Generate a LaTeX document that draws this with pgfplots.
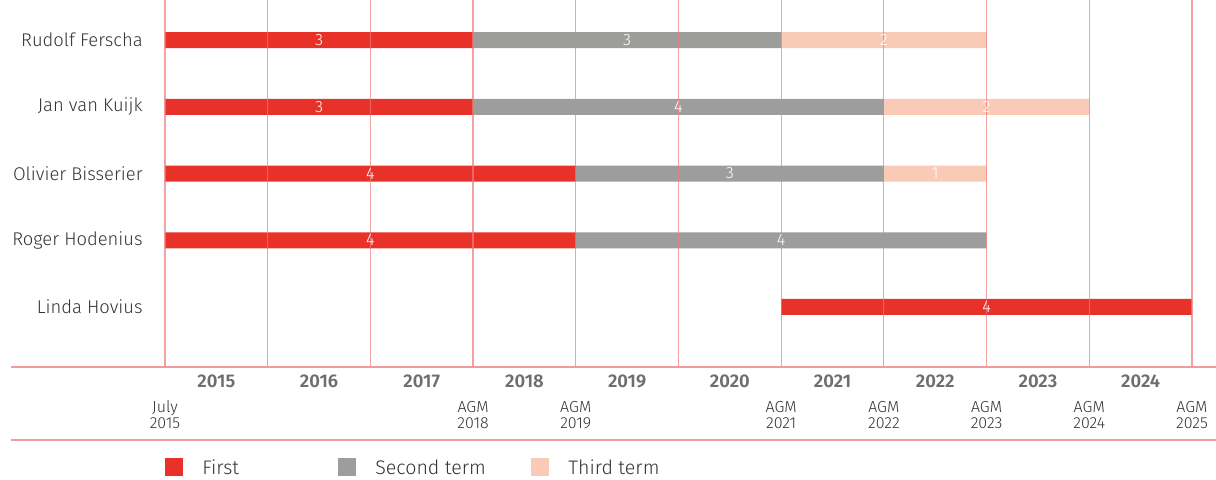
\documentclass[border=0pt]{standalone}
\usepackage{fontspec}
\setmainfont{Fira Sans Light}[BoldFont={Fira Sans SemiBold}]
\usepackage{pgfplots}
\pgfplotsset{compat=1.18}
\definecolor{cred}{HTML}{E83229}
\definecolor{cgray}{HTML}{9D9D9C}
\definecolor{cpeach}{HTML}{F9CAB6}
\definecolor{cgrid}{HTML}{EE7B7B}
\definecolor{ctext}{HTML}{333333}
\definecolor{cyear}{HTML}{6E6E6E}
\tikzset{
  nm/.style={anchor=east, font=\fontsize{9.2}{11}\selectfont, text=ctext, inner sep=0pt},
  bv/.style={font=\fontsize{8.2}{9}\selectfont, text=white, inner sep=0pt},
  yr/.style={anchor=base, font=\bfseries\fontsize{9.2}{10}\selectfont, text=cyear, inner sep=0pt},
  agm/.style={anchor=base, font=\fontsize{8}{9}\selectfont, text=ctext, inner sep=0pt},
}
\begin{document}
\begin{tikzpicture}
\useasboundingbox (-5.5pt,-56.5pt) rectangle (602.5pt,183.5pt);
\begin{axis}[
  scale only axis, width=602.5pt, height=183.5pt,
  xmin=-1.4995, xmax=10.234, ymin=-0.899, ymax=4.6,
  xbar stacked, bar width=8pt,
  axis y line=none, axis x line*=bottom,
  axis line style={draw=cgrid, draw opacity=0.75, line width=0.6pt, -},
  xtick={0,...,10}, xticklabels={}, ytick=\empty,
  major tick length=0pt,
  xmajorgrids, grid style={draw=cgrid, draw opacity=0.7, line width=0.6pt},
  axis on top, clip=false,
  legend columns=3,
  legend style={draw=none, fill=none, at={(axis cs:0,-2.262)}, anchor=north west,
    font=\fontsize{9.8}{12}\selectfont\color{ctext}, inner sep=0pt,
    nodes={inner sep=0pt}, column sep=0pt},
  legend cell align=left,
  legend image code/.code={\fill[#1] (0pt,-4.5pt) rectangle (9pt,4.5pt);},
]
\addplot[draw=none, fill=none, forget plot] coordinates {(0,4) (0,3) (0,2) (0,1) (6,0)};
\addplot[fill=cred, draw=none] coordinates {(3,4) (3,3) (4,2) (4,1) (4,0)};
\addlegendentry{\hspace*{9.5pt}\makebox[68pt][l]{\raisebox{-1.5pt}{First}}}
\addplot[fill=cgray, draw=none] coordinates {(3,4) (4,3) (3,2) (4,1) (0,0)};
\addlegendentry{\hspace*{9.5pt}\makebox[78pt][l]{\raisebox{-1.5pt}{Second term}}}
\addplot[fill=cpeach, draw=none] coordinates {(2,4) (2,3) (1,2) (0,1) (0,0)};
\addlegendentry{\hspace*{9.5pt}\raisebox{-1.5pt}{Third term}}
% names
\node[nm] at (axis cs:-0.214,4) {Rudolf Ferscha};
\node[nm] at (axis cs:-0.214,3) {Jan van Kuijk};
\node[nm] at (axis cs:-0.214,2) {Olivier Bisserier};
\node[nm] at (axis cs:-0.214,1) {Roger Hodenius};
\node[nm] at (axis cs:-0.214,0) {Linda Hovius};
% bar value anchors
\coordinate (v1) at (axis cs:1.5,4);
\coordinate (v2) at (axis cs:4.5,4);
\coordinate (v3) at (axis cs:7,4);
\coordinate (v4) at (axis cs:1.5,3);
\coordinate (v5) at (axis cs:5,3);
\coordinate (v6) at (axis cs:8,3);
\coordinate (v7) at (axis cs:2,2);
\coordinate (v8) at (axis cs:5.5,2);
\coordinate (v9) at (axis cs:7.5,2);
\coordinate (v10) at (axis cs:2,1);
\coordinate (v11) at (axis cs:6,1);
\coordinate (v12) at (axis cs:8,0);
% years
\node[yr] at (axis cs:0.5,-1.2135) {2015};
\node[yr] at (axis cs:1.5,-1.2135) {2016};
\node[yr] at (axis cs:2.5,-1.2135) {2017};
\node[yr] at (axis cs:3.5,-1.2135) {2018};
\node[yr] at (axis cs:4.5,-1.2135) {2019};
\node[yr] at (axis cs:5.5,-1.2135) {2020};
\node[yr] at (axis cs:6.5,-1.2135) {2021};
\node[yr] at (axis cs:7.5,-1.2135) {2022};
\node[yr] at (axis cs:8.5,-1.2135) {2023};
\node[yr] at (axis cs:9.5,-1.2135) {2024};
% AGM labels
\node[agm] at (axis cs:0,-1.580) {July};
\node[agm] at (axis cs:0,-1.814) {2015};
\node[agm] at (axis cs:3,-1.580) {AGM};
\node[agm] at (axis cs:3,-1.814) {2018};
\node[agm] at (axis cs:4,-1.580) {AGM};
\node[agm] at (axis cs:4,-1.814) {2019};
\node[agm] at (axis cs:6,-1.580) {AGM};
\node[agm] at (axis cs:6,-1.814) {2021};
\node[agm] at (axis cs:7,-1.580) {AGM};
\node[agm] at (axis cs:7,-1.814) {2022};
\node[agm] at (axis cs:8,-1.580) {AGM};
\node[agm] at (axis cs:8,-1.814) {2023};
\node[agm] at (axis cs:9,-1.580) {AGM};
\node[agm] at (axis cs:9,-1.814) {2024};
\node[agm] at (axis cs:10,-1.580) {AGM};
\node[agm] at (axis cs:10,-1.814) {2025};
\draw[draw=cgrid, draw opacity=0.75, line width=0.6pt] (axis cs:-1.4995,-1.9925) -- (axis cs:10.234,-1.9925);
\end{axis}
\node[bv] at (v1) {3};
\node[bv] at (v2) {3};
\node[bv] at (v3) {2};
\node[bv] at (v4) {3};
\node[bv] at (v5) {4};
\node[bv] at (v6) {2};
\node[bv] at (v7) {4};
\node[bv] at (v8) {3};
\node[bv] at (v9) {1};
\node[bv] at (v10) {4};
\node[bv] at (v11) {4};
\node[bv] at (v12) {4};
\end{tikzpicture}
\end{document}
